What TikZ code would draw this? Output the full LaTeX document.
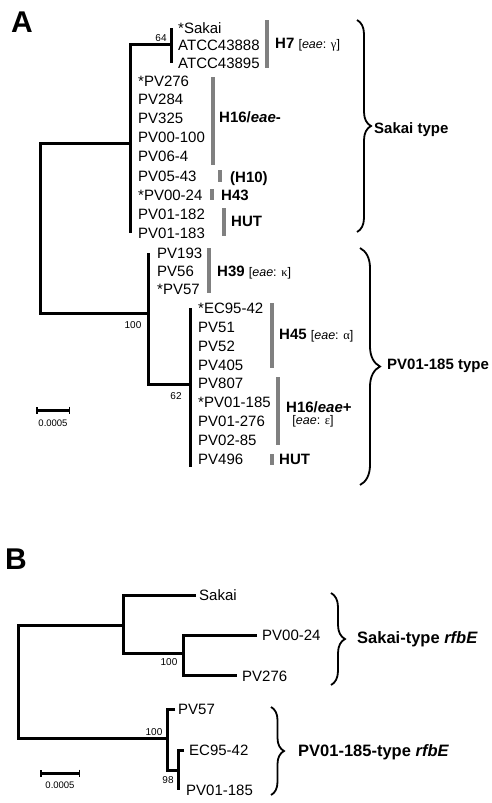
\documentclass[tikz,border=0pt]{standalone}
\usepackage{fontspec}
\setmainfont{Liberation Sans}
\newfontfamily\grkfont{Liberation Serif}
\usetikzlibrary{arrows.meta,positioning,calc}
\usetikzlibrary{decorations.pathreplacing}

\newcommand{\eaetxt}[1]{{\mdseries\fontsize{12.5}{12.5}\selectfont[\textit{eae}: {\grkfont #1}]}}

\tikzset{
  branch/.style={line width=3pt},
  leaf/.style={anchor=west,inner sep=0pt,font=\fontsize{15}{15}\selectfont,text height=10.7pt,text depth=0pt},
  boot/.style={inner sep=0pt,font=\fontsize{10}{10}\selectfont},
  hbar/.style={line width=4pt,draw=gray},
  sero/.style={anchor=west,inner sep=0pt,font=\fontsize{15}{15}\selectfont\bfseries,text height=10.7pt,text depth=0pt},
  clade/.style={decorate,decoration={brace,amplitude=#1},line width=1.8pt},
  grp/.style={anchor=west,inner sep=0pt,font=\fontsize{15}{15}\selectfont\bfseries},
  grpb/.style={anchor=west,inner sep=0pt,font=\fontsize{16.5}{16.5}\selectfont\bfseries},
  panel/.style={inner sep=0pt,font=\fontsize{30}{30}\selectfont\bfseries},
  sbar/.style={line width=3pt,{Bar[width=7pt,line width=1.5pt]}-{Bar[width=7pt,line width=1.5pt]}},
}

\begin{document}
\begin{tikzpicture}[x=1pt,y=-1pt]
      \useasboundingbox (0,0) rectangle (492,803);

      % panel A
      \node[panel] (pa) at (22,22.5) {A};

      \node[leaf] (sakai) at (178,28) {*Sakai};
      \node[leaf] (atcc88) at (178,45) {ATCC43888};
      \node[leaf] (atcc95) at (178,63) {ATCC43895};
      \node[leaf] (pv276) at (138,81) {*PV276};
      \node[leaf] (pv284) at (138,99) {PV284};
      \node[leaf] (pv325) at (138,118) {PV325};
      \node[leaf] (pv00100) at (138,137) {PV00-100};
      \node[leaf] (pv064) at (138,156) {PV06-4};
      \node[leaf] (pv0543) at (138,176) {PV05-43};
      \node[leaf] (pv0024) at (138,195) {*PV00-24};
      \node[leaf] (pv01182) at (138,214) {PV01-182};
      \node[leaf] (pv01183) at (138,233) {PV01-183};
      \node[leaf] (pv193) at (157,253) {PV193};
      \node[leaf] (pv56) at (157,271) {PV56};
      \node[leaf] (pv57) at (157,289) {*PV57};
      \node[leaf] (ec9542) at (198,308) {*EC95-42};
      \node[leaf] (pv51) at (198,327) {PV51};
      \node[leaf] (pv52) at (198,346) {PV52};
      \node[leaf] (pv405) at (198,365) {PV405};
      \node[leaf] (pv807) at (198,383) {PV807};
      \node[leaf] (pv01185) at (198,402) {*PV01-185};
      \node[leaf] (pv01276) at (198,421) {PV01-276};
      \node[leaf] (pv0285) at (198,440) {PV02-85};
      \node[leaf] (pv496) at (198,459) {PV496};

      \coordinate (ar) at (40,228);
      \coordinate (au) at (130,143);
      \coordinate (as) at (171,44);
      \coordinate (al) at (148,313);
      \coordinate (ah) at (190,384);

      \draw[branch] (au) -| (ar) |- (al);
      \draw[branch] (as) -| (au) -- (au |- pv01183);
      \draw[branch] (as |- sakai) -- (as |- atcc95);
      \draw[branch] (al |- pv193) -- (al) |- (ah);
      \draw[branch] (ah |- ec9542) -- ([yshift=-8pt]ah |- pv496);

      \node[boot] (bs64) at (161,38) {64};
      \node[boot] (bs100) at (133,325) {100};
      \node[boot] (bs62) at (176,396) {62};

      \draw[hbar] (267,20) -- (267,68);
      \node[sero] (h7) at (275,43) {H7 \eaetxt{γ}};
      \draw[hbar] (213,77) -- (213,165);
      \node[sero] (h16m) at (219,117) {H16/\textit{eae}-};
      \draw[hbar] (220,170) -- (220,182);
      \node[sero] (h10) at (230,177) {(H10)};
      \draw[hbar] (212,189) -- (212,200);
      \node[sero] (h43) at (221,195) {H43};
      \draw[hbar] (224,208) -- (224,236);
      \node[sero] (hut1) at (231,221) {HUT};
      \draw[hbar] (209,248) -- (209,293);
      \node[sero] (h39) at (217,271) {H39 \eaetxt{κ}};
      \draw[hbar] (272,303) -- (272,368);
      \node[sero] (h45) at (279,334) {H45 \eaetxt{α}};
      \draw[hbar] (278,377) -- (278,445);
      \node[sero] (h16p) at (286,407) {H16/\textit{eae}+};
      \node[inner sep=0pt] (h16e) at (313,421) {\eaetxt{ε}};
      \draw[hbar] (272,454) -- (272,465);
      \node[sero] (hut2) at (279,459) {HUT};

      \draw[clade=14pt] (357,20) -- (357,232);
      \node[grp] (sakaitype) at (374,130) {Sakai type};
      \draw[clade=20pt] (360,248) -- (360,485);
      \node[grp] (pvtype) at (387,366) {PV01-185 type};

      \coordinate (sa0) at (36,410);
      \coordinate (sa1) at (70,410);
      \draw[sbar] (sa0) -- (sa1);
      \node[boot,font=\fontsize{9.5}{9.5}\selectfont] (sla) at (53,423) {0.0005};

      % panel B
      \node[panel] (pb) at (16,559.5) {B};

      \node[leaf] (bsakai) at (199,595) {Sakai};
      \node[leaf] (bpv0024) at (262,635) {PV00-24};
      \node[leaf] (bpv276) at (242,676) {PV276};
      \node[leaf] (bpv57) at (178,709) {PV57};
      \node[leaf] (bec9542) at (189,750) {EC95-42};
      \node[leaf] (bpv01185) at (186,790) {PV01-185};

      \coordinate (tsak) at (196,595);
      \coordinate (t0024) at (257,635);
      \coordinate (t276) at (237,675);
      \coordinate (t57) at (175,709);
      \coordinate (tec) at (184,750);

      \coordinate (br) at (18,680);
      \coordinate (bu) at (123,625);
      \coordinate (bs) at (183,653);
      \coordinate (bl) at (167,738);
      \coordinate (bh) at (178,770);

      \draw[branch] (bu) -| (br) |- (bl);
      \draw[branch] (tsak) -| (bu) |- (bs);
      \draw[branch] (t0024) -| (bs) |- (t276);
      \draw[branch] (t57) -| (bl) |- (bh);
      \draw[branch] (tec) -| (bh) -- (bh |- bpv01185);

      \node[boot] (bb100a) at (169,662) {100};
      \node[boot] (bb100b) at (154,732) {100};
      \node[boot] (bb98) at (168,780) {98};

      \draw[clade=14pt] (331,593) -- (331,685);
      \node[grpb] (sakrfbe) at (357,639) {Sakai-type \textit{rfbE}};
      \draw[clade=13pt] (271,707) -- (271,795);
      \node[grpb] (pvrfbe) at (298,752) {PV01-185-type \textit{rfbE}};

      \coordinate (sb0) at (40,773);
      \coordinate (sb1) at (80,773);
      \draw[sbar] (sb0) -- (sb1);
      \node[boot,font=\fontsize{9.5}{9.5}\selectfont] (slb) at (60,785) {0.0005};

\end{tikzpicture}
\end{document}
